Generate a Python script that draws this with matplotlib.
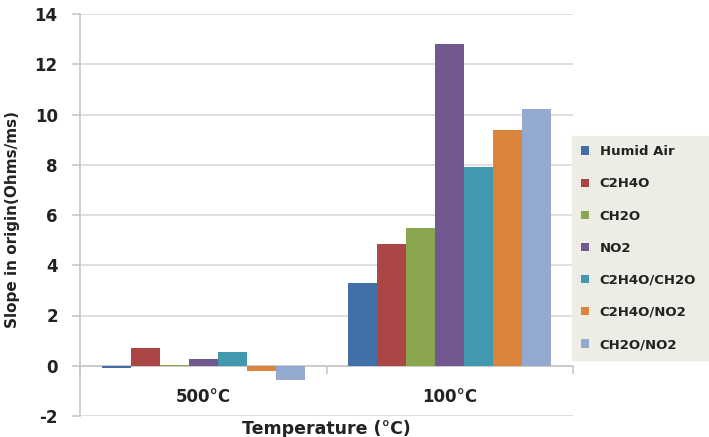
import matplotlib
matplotlib.use("Agg")
import matplotlib.pyplot as plt
import numpy as np

categories = ["500°C", "100°C"]
series_names = ["Humid Air", "C2H4O", "CH2O", "NO2", "C2H4O/CH2O", "C2H4O/NO2", "CH2O/NO2"]
humid_air = [-0.08, 3.30]
c2h4o = [0.70, 4.84]
ch2o = [0.02, 5.47]
no2 = [0.28, 12.80]
c2h4o_ch2o = [0.54, 7.91]
c2h4o_no2 = [-0.19, 9.39]
ch2o_no2 = [-0.58, 10.21]
series_values = [humid_air, c2h4o, ch2o, no2, c2h4o_ch2o, c2h4o_no2, ch2o_no2]
colors = ["#4170A8", "#AA4744", "#89A54E", "#71588F", "#4198AF", "#DB843D", "#93A9CF"]
y_ticks = [-2, 0, 2, 4, 6, 8, 10, 12, 14]

plt.rcParams['font.family'] = ['DejaVu Sans']
plt.rcParams['font.weight'] = 'bold'

fig = plt.figure(figsize=(7.09, 4.37), dpi=100)
ax = fig.add_axes([80/709, 1-416/437, (573-80)/709, (416-14)/437])

n = len(series_names)
group_w = 0.825
bw = group_w / n
x = np.arange(len(categories)) + 0.5
for i, (name, vals, c) in enumerate(zip(series_names, series_values, colors)):
    ax.bar(x - group_w/2 + bw*(i+0.5), vals, width=bw, color=c, label=name, zorder=3)

ax.set_xlim(0, len(categories))
ax.set_ylim(-2, 14)
ax.set_yticks(y_ticks)
ax.set_yticklabels([str(t) for t in y_ticks], fontsize=12, fontweight='bold', color='#222222')
ax.yaxis.grid(True, color='#D9D9D9', linewidth=1.2, zorder=0)
ax.set_axisbelow(True)

for s in ['top', 'right']:
    ax.spines[s].set_visible(False)
ax.spines['left'].set_color('#C8C8C8')
ax.spines['left'].set_linewidth(1.2)
ax.spines['bottom'].set_position(('data', 0))
ax.spines['bottom'].set_color('#C8C8C8')
ax.spines['bottom'].set_linewidth(1.2)
ax.tick_params(axis='y', length=6, color='#C8C8C8', width=1.2, pad=10)

ax.set_xticks(np.arange(len(categories)+1))
ax.set_xticklabels([])
ax.tick_params(axis='x', which='major', length=6, color='#C8C8C8', width=1.2)
ax.set_xticks(x, minor=True)
ax.set_xticklabels(categories, minor=True, fontsize=12, fontweight='bold', color='#222222')
ax.tick_params(axis='x', which='minor', length=0, pad=16)

fig.text(13/709, 1-220/437, "Slope in origin(Ohms/ms)", rotation=90, ha='center', va='center',
         fontsize=11, fontweight='bold', color='#222222')
fig.text(326/709, 1-420/437, "Temperature (°C)", ha='center', va='top', fontsize=12.5,
         fontweight='bold', color='#222222')

leg = ax.legend(loc='upper left', bbox_to_anchor=(572/709, 1-359/437, 150/709, 223/437),
                bbox_transform=fig.transFigure, mode='expand',
                prop={'weight': 'bold', 'size': 9.5}, frameon=True, fancybox=False,
                handlelength=0.6, handleheight=0.6, handletextpad=0.8, labelspacing=1.45,
                borderpad=0.7, borderaxespad=0)
for t in leg.get_texts():
    t.set_color('#222222')
leg.get_frame().set_facecolor('#EDEDE6')
leg.get_frame().set_edgecolor('#EDEDE6')
leg.get_frame().set_alpha(1)

fig.savefig("out.png", dpi=100)
